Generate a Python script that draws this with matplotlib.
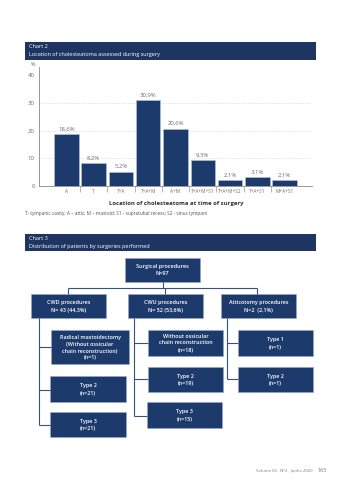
import matplotlib
matplotlib.use('Agg')
import matplotlib.pyplot as plt
from matplotlib.patches import Rectangle

plt.rcParams['font.family'] = ['Open Sans', 'DejaVu Sans']

navy = '#1c3a6c'
band = '#1f3561'
grey = '#6d6d6d'
linec = '#34527f'

# chart 2 data
locations = ['A', 'T', 'T+A', 'T+A+M', 'A+M', 'T+A+M+S1', 'T+A+M+S2', 'T+A+S1', 'M+A+S1']
percent = [18.6, 8.2, 5.2, 30.9, 20.6, 9.3, 2.1, 3.1, 2.1]
yticks = [0, 10, 20, 30, 40]

# chart 3 texts
top_box = 'Surgical procedures\nN=97'
level1 = ['CWD procedures\nN= 43 (44,3%)',
          'CWU procedures\nN= 52 (53,6%)',
          'Atticotomy procedures\nN=2  (2,1%)']
cwd_boxes = ['Radical mastoidectomy\n(Without ossicular\nchain reconstruction)\n(n=1)',
             'Type 2\n(n=21)', 'Type 3\n(n=21)']
cwu_boxes = ['Without ossicular\nchain reconstruction\n(n=18)', 'Type 2\n(n=19)', 'Type 3\n(n=15)']
att_boxes = ['Type 1\n(n=1)', 'Type 2\n(n=1)']

W, H = 342, 480
fig = plt.figure(figsize=(W / 100, H / 100), dpi=100)
page = fig.add_axes([0, 0, 1, 1])
page.set_xlim(0, W)
page.set_ylim(H, 0)
page.axis('off')


def header(y0, y1, title, sub):
    page.add_patch(Rectangle((25, y0), 291, y1 - y0, color=band, lw=0))
    page.text(29, y0 + 4.5, title, color='white', fontsize=4.0, va='center')
    page.text(29, y0 + 12.5, sub, color='white', fontsize=4.0, va='center')


def box(x0, y0, x1, y1, txt, fs=3.9):
    page.add_patch(Rectangle((x0, y0), x1 - x0, y1 - y0, facecolor=navy,
                             edgecolor='#9aaac4', lw=0.4))
    page.text((x0 + x1) / 2, (y0 + y1) / 2, txt, color='white', fontsize=fs,
              ha='center', va='center', fontweight='semibold', linespacing=1.4)


def line(xs, ys):
    page.plot(xs, ys, color=linec, lw=0.8, solid_capstyle='butt')


header(42, 60, 'Chart 2', 'Location of cholesteatoma assessed during surgery')
header(234, 251, 'Chart 3', 'Distribution of patients by surgeries performed')

# bar chart
ax = fig.add_axes([39 / W, 1 - 186 / H, 273 / W, (186 - 66.7) / H])
x = range(len(locations))
ax.bar(x, percent, width=0.9, color=navy, edgecolor='#b9c6da', linewidth=0.4, zorder=3)
for i, v in enumerate(percent):
    ax.text(i, v + 1.0, ('%.1f%%' % v).replace('.', ','), ha='center', va='bottom',
            fontsize=4.3, color=grey)
ax.set_xlim(-1, 9)
ax.set_ylim(0, 43)
ax.set_yticks(yticks)
ax.set_yticklabels([str(t) for t in yticks], fontsize=4.4, color=grey)
ax.tick_params(axis='y', length=0, pad=3)
ax.set_xticks(list(x))
ax.set_xticklabels(locations, fontsize=3.4, color=grey)
ax.tick_params(axis='x', length=0, pad=2)
ax.set_xticks([i + 0.5 for i in range(8)], minor=True)
ax.tick_params(axis='x', which='minor', length=4, width=0.5, color='#999999', direction='out')
for t in [10, 20, 30]:
    ax.axhline(t, color='#cccccc', lw=0.5, ls=(0, (1, 1.5)), zorder=1)
for s in ['top', 'right']:
    ax.spines[s].set_visible(False)
ax.spines['left'].set_color('#888888')
ax.spines['bottom'].set_color('#888888')
ax.spines['left'].set_linewidth(0.6)
ax.spines['bottom'].set_linewidth(0.6)
ax.patch.set_alpha(0)

page.text(31, 64.5, '%', fontsize=4, color=grey, va='center')
page.text(176, 204, 'Location of cholesteatoma at time of surgery', fontsize=4.3,
          ha='center', va='center', fontweight='bold', color='#333333')
page.text(25, 214, 'T- tympanic cavity; A \u2013 attic; M \u2013 mastoid; S1 - supratubal recess; S2 - sinus tympani',
          fontsize=3.4, va='center', color='#555555')

# flowchart
line([163, 163], [282, 288])
line([68, 257], [288, 288])
line([68, 68], [288, 294])
line([165, 165], [288, 294])
line([257, 257], [288, 294])
box(125, 258, 200, 282, top_box, fs=4.0)
box(31, 294, 106, 318, level1[0])
box(128, 294, 203, 318, level1[1])
box(221, 294, 296, 318, level1[2])

cwd_pos = [(51, 330, 129, 364, 347), (50, 376, 126, 402, 390), (50, 412, 126, 437, 425)]
line([39, 39], [318, 425])
for (x0, y0, x1, y1, yb), txt in zip(cwd_pos, cwd_boxes):
    line([39, x0], [yb, yb])
    box(x0, y0, x1, y1, txt)

cwu_pos = [(148, 330, 223, 356, 343), (148, 367, 223, 392, 379), (147, 402, 222, 428, 416)]
line([134, 134], [318, 416])
for (x0, y0, x1, y1, yb), txt in zip(cwu_pos, cwu_boxes):
    line([134, x0], [yb, yb])
    box(x0, y0, x1, y1, txt)

att_pos = [(238, 330, 313, 356, 343), (238, 367, 313, 392, 379)]
line([227, 227], [318, 379])
for (x0, y0, x1, y1, yb), txt in zip(att_pos, att_boxes):
    line([227, x0], [yb, yb])
    box(x0, y0, x1, y1, txt)

page.text(313, 470, 'Volume 60 . N\u00ba2 . Junho 2020', fontsize=3.0, ha='right', va='center', color='#777777')
page.text(318, 470, '165', fontsize=4, ha='left', va='center', color='#777777')

fig.savefig('out.png', dpi=100)
